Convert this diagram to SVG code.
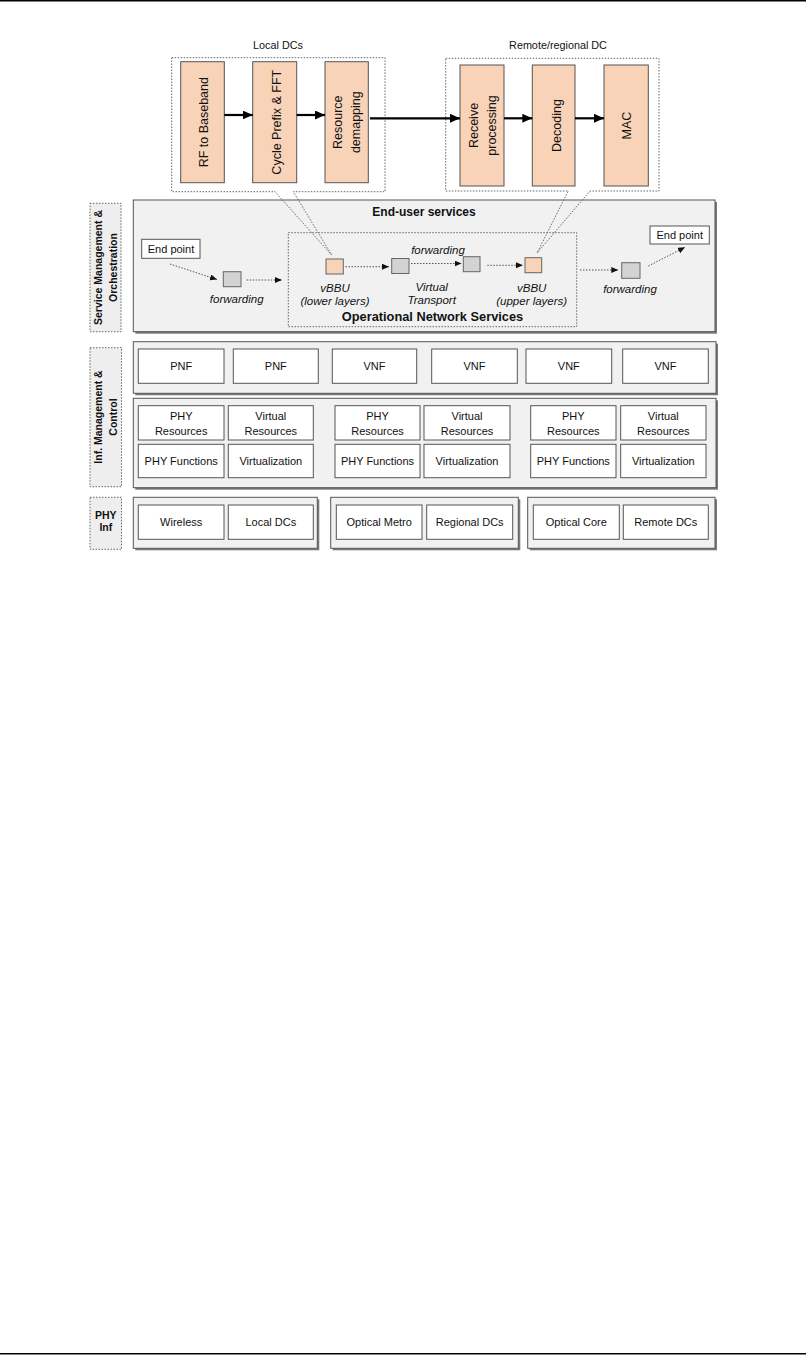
<svg xmlns="http://www.w3.org/2000/svg" width="806" height="1355" viewBox="0 0 806 1355">
<defs>
<style>
text{font-family:"Liberation Sans",Arial,sans-serif;fill:#111;}
.lbl{font-size:11px;text-anchor:middle;}
.it{font-size:11.5px;font-style:italic;text-anchor:middle;}
.b{font-weight:bold;}
.vt{font-size:12.5px;text-anchor:middle;}
.hd{font-size:10.8px;text-anchor:middle;}
.side{font-size:10.5px;font-weight:bold;text-anchor:middle;}
.cont{fill:#F1F1F1;stroke:#555;stroke-width:1;}
.shadow{fill:#7a7a7a;}
.box{fill:#fff;stroke:#555;stroke-width:1;}
.orange{fill:#F9D3B7;stroke:#555;stroke-width:1;}
.sq{fill:#D3D3D3;stroke:#666;stroke-width:1;}
.sqo{fill:#F9D3B7;stroke:#666;stroke-width:1;}
.dot{fill:none;stroke:#666;stroke-width:1;stroke-dasharray:1.5,1.5;}
.sidebox{fill:#EEEEEE;stroke:#666;stroke-width:1;stroke-dasharray:1.5,1.5;}
.arr{stroke:#000;stroke-width:2.2;fill:none;marker-end:url(#ah);}
.darr{stroke:#555;stroke-width:1;stroke-dasharray:1.5,1.5;fill:none;marker-end:url(#dh);}
.thin{stroke:#555;stroke-width:0.8;fill:none;}
</style>
<marker id="ah" markerUnits="userSpaceOnUse" markerWidth="11" markerHeight="10" refX="10" refY="4.5" orient="auto">
<path d="M0,0 L10,4.5 L0,9 z" fill="#000"/>
</marker>
<marker id="dh" markerUnits="userSpaceOnUse" markerWidth="8" markerHeight="7" refX="7" refY="3" orient="auto">
<path d="M0,0 L7,3 L0,6 z" fill="#111"/>
</marker>
</defs>
<rect x="0" y="0" width="806" height="1355" fill="#fff"/>
<line x1="0" y1="0.8" x2="806" y2="0.8" stroke="#000" stroke-width="1.6"/>
<line x1="0" y1="1353.8" x2="806" y2="1353.8" stroke="#000" stroke-width="1.6"/>

<!-- Side labels -->
<g id="side-smo">
<rect class="sidebox" x="90" y="203.3" width="31" height="128.4"/>
<text class="side" transform="translate(105.5,267.5) rotate(-90)"><tspan x="0" y="-3.5">Service Management &amp;</tspan><tspan x="0" y="11.5">Orchestration</tspan></text>
</g>
<g id="side-imc">
<rect class="sidebox" x="90" y="347.7" width="31.5" height="139"/>
<text class="side" transform="translate(105.8,417) rotate(-90)"><tspan x="0" y="-3.5">Inf. Management &amp;</tspan><tspan x="0" y="11.5">Control</tspan></text>
</g>
<g id="side-phy">
<rect class="sidebox" x="90" y="497.3" width="31.5" height="52"/>
<text class="side"><tspan x="105.8" y="518.7">PHY</tspan><tspan x="105.8" y="531">Inf</tspan></text>
</g>

<!-- Service management container -->
<g id="service-container">
<rect class="shadow" x="135.3" y="202" width="581.7" height="131.7"/>
<rect class="cont" x="133.3" y="200" width="581.7" height="131.7"/>
<text class="b" x="424" y="215.5" font-size="12" text-anchor="middle">End-user services</text>
</g>
<g id="ons">
<rect x="288.3" y="232.7" width="288.4" height="94" fill="#fff" class="dot"/>
<text class="b" x="432.5" y="321" font-size="12.8" text-anchor="middle">Operational Network Services</text>
</g>

<!-- Local DCs -->
<g id="local-dcs">
<text class="hd" x="278" y="48.5">Local DCs</text>
<path class="dot" d="M171.7,57.7 H385 V191.7 H293.3 L331.7,255 L275,191.7 H171.7 Z"/>
</g>
<g id="rf-baseband">
<rect class="orange" x="180.7" y="61.7" width="43.6" height="121"/>
<text class="vt" transform="translate(203.3,122.2) rotate(-90)" y="4.5">RF to Baseband</text>
</g>
<g id="cycle-prefix">
<rect class="orange" x="252.7" y="61.7" width="44" height="121"/>
<text class="vt" transform="translate(276.5,122.2) rotate(-90)" y="4.5">Cycle Prefix &amp; FFT</text>
</g>
<g id="resource-demapping">
<rect class="orange" x="325" y="61.7" width="43.3" height="121"/>
<text class="vt" transform="translate(346.7,122.2) rotate(-90)"><tspan x="0" y="-4.5">Resource</tspan><tspan x="0" y="13.5">demapping</tspan></text>
</g>

<!-- Remote DC -->
<g id="remote-dc">
<text class="hd" x="558" y="48.5">Remote/regional DC</text>
<path class="dot" d="M445.7,58.3 H659 V191 H590 L537,253 L568.3,191 H445.7 Z"/>
</g>
<g id="receive-processing">
<rect class="orange" x="460" y="65" width="44" height="121"/>
<text class="vt" transform="translate(482,125.5) rotate(-90)"><tspan x="0" y="-4.5">Receive</tspan><tspan x="0" y="13.5">processing</tspan></text>
</g>
<g id="decoding">
<rect class="orange" x="532.3" y="65" width="42.7" height="121"/>
<text class="vt" transform="translate(556.7,125.5) rotate(-90)" y="4.5">Decoding</text>
</g>
<g id="mac">
<rect class="orange" x="604" y="65" width="44.3" height="121"/>
<text class="vt" transform="translate(626.5,125.5) rotate(-90)" y="4.5">MAC</text>
</g>

<!-- Service nodes -->
<g id="endpoint-left">
<rect class="box" x="141.7" y="239.3" width="58.3" height="19"/>
<text class="lbl" x="171" y="253">End point</text>
</g>
<g id="fwd-left">
<rect class="sq" x="223.3" y="271.7" width="17.7" height="15"/>
<text class="it" x="236.7" y="303">forwarding</text>
</g>
<g id="vbbu-lower">
<rect class="sqo" x="326" y="259" width="17.3" height="15"/>
<text class="it"><tspan x="335" y="291.7">vBBU</tspan><tspan x="335" y="304.5">(lower layers)</tspan></text>
</g>
<g id="vt-1">
<rect class="sq" x="391.7" y="258.5" width="17.3" height="15"/>
</g>
<g id="vt-2">
<rect class="sq" x="463.3" y="256.7" width="16.7" height="15"/>
<text class="it" x="438" y="254">forwarding</text>
<text class="it"><tspan x="431.7" y="290.5">Virtual</tspan><tspan x="431.7" y="304">Transport</tspan></text>
</g>
<g id="vbbu-upper">
<rect class="sqo" x="525" y="257.7" width="16.7" height="15"/>
<text class="it"><tspan x="531.7" y="291.7">vBBU</tspan><tspan x="531.7" y="304.5">(upper layers)</tspan></text>
</g>
<g id="fwd-right">
<rect class="sq" x="621.7" y="262.7" width="18.3" height="15.6"/>
<text class="it" x="630" y="293">forwarding</text>
</g>
<g id="endpoint-right">
<rect class="box" x="650" y="226" width="59.3" height="18"/>
<text class="lbl" x="679.7" y="239">End point</text>
</g>

<!-- Connectors -->
<g id="connectors">
<line class="arr" x1="224.3" y1="115" x2="252.7" y2="115"/>
<line class="arr" x1="296.7" y1="115" x2="325" y2="115"/>
<line class="arr" x1="370" y1="118.3" x2="460" y2="118.3"/>
<line class="arr" x1="504" y1="118.3" x2="532.3" y2="118.3"/>
<line class="arr" x1="575" y1="118.3" x2="604" y2="118.3"/>
<line class="darr" x1="170" y1="264" x2="217" y2="279.5"/>
<line class="darr" x1="246.7" y1="280" x2="282" y2="280"/>
<line class="darr" x1="345.5" y1="266.7" x2="389" y2="266.7"/>
<line class="darr" x1="411" y1="263.5" x2="461.5" y2="263.5"/>
<line class="darr" x1="487.3" y1="265.3" x2="523" y2="265.3"/>
<line class="darr" x1="580" y1="270" x2="618.3" y2="270"/>
<line class="darr" x1="648.3" y1="266" x2="685" y2="247.3"/>
</g>

<!-- Function row -->
<g id="function-row">
<rect class="shadow" x="135.3" y="343.7" width="582.7" height="51.6"/>
<rect class="cont" x="133.3" y="341.7" width="582.7" height="51.6"/>
</g>
<g id="pnf-1"><rect class="box" x="138.3" y="349" width="85.7" height="34.3"/><text class="lbl" x="181.2" y="370">PNF</text></g>
<g id="pnf-2"><rect class="box" x="233.3" y="349" width="85" height="34.3"/><text class="lbl" x="275.8" y="370">PNF</text></g>
<g id="vnf-1"><rect class="box" x="332.3" y="349" width="84.4" height="34.3"/><text class="lbl" x="374.5" y="370">VNF</text></g>
<g id="vnf-2"><rect class="box" x="431.7" y="349" width="85.6" height="34.3"/><text class="lbl" x="474.5" y="370">VNF</text></g>
<g id="vnf-3"><rect class="box" x="526" y="349" width="85.7" height="34.3"/><text class="lbl" x="568.8" y="370">VNF</text></g>
<g id="vnf-4"><rect class="box" x="622.7" y="349" width="85.6" height="34.3"/><text class="lbl" x="665.5" y="370">VNF</text></g>

<!-- Resources row -->
<g id="resources-row">
<rect class="shadow" x="135.3" y="400.3" width="582.7" height="89.4"/>
<rect class="cont" x="133.3" y="398.3" width="582.7" height="89.4"/>
</g>
<g id="res-group-1">
<rect class="box" x="138.3" y="405.7" width="85.7" height="34.3"/>
<text class="lbl"><tspan x="181.2" y="419.5">PHY</tspan><tspan x="181.2" y="434.5">Resources</tspan></text>
<rect class="box" x="228.3" y="405.7" width="85" height="34.3"/>
<text class="lbl"><tspan x="270.8" y="419.5">Virtual</tspan><tspan x="270.8" y="434.5">Resources</tspan></text>
<rect class="box" x="138.3" y="444.3" width="85.7" height="33.4"/>
<text class="lbl" x="181.2" y="465">PHY Functions</text>
<rect class="box" x="228.3" y="444.3" width="85" height="33.4"/>
<text class="lbl" x="270.8" y="465">Virtualization</text>
</g>
<g id="res-group-2">
<rect class="box" x="335" y="405.7" width="85" height="34.3"/>
<text class="lbl"><tspan x="377.5" y="419.5">PHY</tspan><tspan x="377.5" y="434.5">Resources</tspan></text>
<rect class="box" x="424" y="405.7" width="86" height="34.3"/>
<text class="lbl"><tspan x="467" y="419.5">Virtual</tspan><tspan x="467" y="434.5">Resources</tspan></text>
<rect class="box" x="335" y="444.3" width="85" height="33.4"/>
<text class="lbl" x="377.5" y="465">PHY Functions</text>
<rect class="box" x="424" y="444.3" width="86" height="33.4"/>
<text class="lbl" x="467" y="465">Virtualization</text>
</g>
<g id="res-group-3">
<rect class="box" x="530.7" y="405.7" width="85.3" height="34.3"/>
<text class="lbl"><tspan x="573.3" y="419.5">PHY</tspan><tspan x="573.3" y="434.5">Resources</tspan></text>
<rect class="box" x="620.7" y="405.7" width="85.3" height="34.3"/>
<text class="lbl"><tspan x="663.3" y="419.5">Virtual</tspan><tspan x="663.3" y="434.5">Resources</tspan></text>
<rect class="box" x="530.7" y="444.3" width="85.3" height="33.4"/>
<text class="lbl" x="573.3" y="465">PHY Functions</text>
<rect class="box" x="620.7" y="444.3" width="85.3" height="33.4"/>
<text class="lbl" x="663.3" y="465">Virtualization</text>
</g>

<!-- PHY infrastructure -->
<g id="phy-1">
<rect class="shadow" x="135.3" y="499.3" width="184" height="51"/>
<rect class="cont" x="133.3" y="497.3" width="184" height="51"/>
<rect class="box" x="138.3" y="505" width="85.7" height="34.3"/><text class="lbl" x="181.2" y="526">Wireless</text>
<rect class="box" x="228.3" y="505" width="85" height="34.3"/><text class="lbl" x="270.8" y="526">Local DCs</text>
</g>
<g id="phy-2">
<rect class="shadow" x="332.7" y="499.3" width="187.6" height="51"/>
<rect class="cont" x="330.7" y="497.3" width="187.6" height="51"/>
<rect class="box" x="336.3" y="505" width="85.7" height="34.3"/><text class="lbl" x="379.2" y="526">Optical Metro</text>
<rect class="box" x="426.7" y="505" width="86" height="34.3"/><text class="lbl" x="469.7" y="526">Regional DCs</text>
</g>
<g id="phy-3">
<rect class="shadow" x="529.7" y="499.3" width="187.3" height="51"/>
<rect class="cont" x="527.7" y="497.3" width="187.3" height="51"/>
<rect class="box" x="533.3" y="505" width="86" height="34.3"/><text class="lbl" x="576.3" y="526">Optical Core</text>
<rect class="box" x="623.3" y="505" width="85" height="34.3"/><text class="lbl" x="665.8" y="526">Remote DCs</text>
</g>
</svg>
